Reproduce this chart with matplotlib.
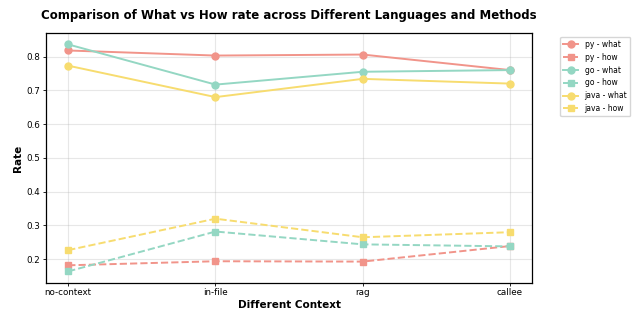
import matplotlib.pyplot as plt

contexts = ['no-context', 'in-file', 'rag', 'callee']

py_what = [0.818, 0.803, 0.806, 0.760]
py_how = [0.182, 0.194, 0.193, 0.239]
go_what = [0.836, 0.717, 0.755, 0.760]
go_how = [0.164, 0.282, 0.244, 0.238]
java_what = [0.773, 0.680, 0.734, 0.720]
java_how = [0.227, 0.320, 0.265, 0.280]

colors = {'py': '#F1948A', 'go': '#94D7C3', 'java': '#F7DC6F'}

series = [
    ('py', 'what', py_what), ('py', 'how', py_how),
    ('go', 'what', go_what), ('go', 'how', go_how),
    ('java', 'what', java_what), ('java', 'how', java_how),
]

fig, ax = plt.subplots(figsize=(6.41, 3.09), dpi=100)
x = range(len(contexts))
for lang, kind, vals in series:
    if kind == 'what':
        ax.plot(x, vals, color=colors[lang], marker='o', linestyle='-',
                linewidth=1.4, markersize=5, label=f'{lang} - {kind}')
    else:
        ax.plot(x, vals, color=colors[lang], marker='s', linestyle='--',
                linewidth=1.4, markersize=5, label=f'{lang} - {kind}')

ax.set_xticks(list(x))
ax.set_xticklabels(contexts)
ax.tick_params(axis='both', labelsize=6.3, length=2, pad=2, width=0.6)
ax.set_xlabel('Different Context', fontsize=7.5, fontweight='bold', labelpad=2)
ax.set_ylabel('Rate', fontsize=7.5, fontweight='bold', labelpad=2.5)
ax.set_title('Comparison of What vs How rate across Different Languages and Methods',
             fontsize=8.5, fontweight='bold', pad=10)
ax.grid(True, alpha=0.3)
for s in ax.spines.values():
    s.set_linewidth(0.9)
ax.legend(bbox_to_anchor=(1.05, 1), loc='upper left', fontsize=5.5)

plt.subplots_adjust(left=0.072, right=0.83, top=0.893, bottom=0.085)
plt.savefig('out.png', dpi=100)
